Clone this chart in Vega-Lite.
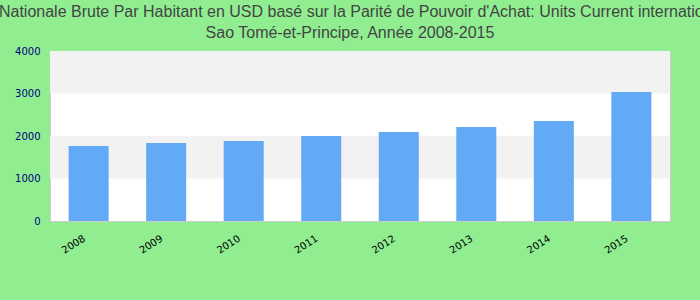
{
  "$schema": "https://vega.github.io/schema/vega-lite/v6.json",
  "autosize": {"type": "none"},
  "padding": {"left": 50, "top": 51, "right": 30, "bottom": 79},
  "width": 620,
  "height": 170,
  "background": "#90EE90",
  "title": {
    "text": ["Revenu Nationale Brute Par Habitant en USD basé sur la Parité de Pouvoir d'Achat: Units Current international $ de", "Sao Tomé-et-Principe, Année 2008-2015"],
    "anchor": "middle",
    "frame": "group",
    "dx": -10,
    "offset": 5,
    "font": "Liberation Sans",
    "fontSize": 16,
    "fontWeight": "normal",
    "color": "#444444",
    "lineHeight": 21
  },
  "datasets": {
    "bands": [
      {"lo": 1000, "hi": 2000},
      {"lo": 3000, "hi": 4000}
    ],
    "gni": [
      {"year": "2008", "value": 1765},
      {"year": "2009", "value": 1835},
      {"year": "2010", "value": 1882},
      {"year": "2011", "value": 2000},
      {"year": "2012", "value": 2094},
      {"year": "2013", "value": 2212},
      {"year": "2014", "value": 2353},
      {"year": "2015", "value": 3035}
    ]
  },
  "layer": [
    {
      "data": {"name": "bands"},
      "mark": {"type": "rect", "color": "#f2f2f2"},
      "encoding": {
        "y": {"field": "lo", "type": "quantitative", "scale": {"domain": [0, 4000]}},
        "y2": {"field": "hi"}
      }
    },
    {
      "data": {"name": "gni"},
      "mark": {"type": "bar", "color": "#62aaf5"},
      "encoding": {
        "x": {
          "field": "year",
          "type": "ordinal",
          "scale": {"paddingInner": 0.484, "paddingOuter": 0.24},
          "axis": {
            "title": null,
            "labelAngle": -33,
            "labelAlign": "right",
            "labelBaseline": "top",
            "labelOffset": -7,
            "labelFont": "DejaVu Sans",
            "labelFontSize": 10,
            "labelColor": "#000000",
            "labelPadding": 12,
            "ticks": false,
            "domain": false
          }
        },
        "y": {
          "field": "value",
          "type": "quantitative",
          "scale": {"domain": [0, 4000], "nice": false},
          "axis": {
            "title": null,
            "values": [0, 1000, 2000, 3000, 4000],
            "format": "d",
            "grid": false,
            "ticks": false,
            "domain": false,
            "labelFont": "DejaVu Sans",
            "labelFontSize": 10,
            "labelColor": "#000080",
            "labelPadding": 10
          }
        }
      }
    }
  ],
  "config": {
    "view": {"fill": "#ffffff", "stroke": "#cccccc", "strokeWidth": 1}
  }
}
